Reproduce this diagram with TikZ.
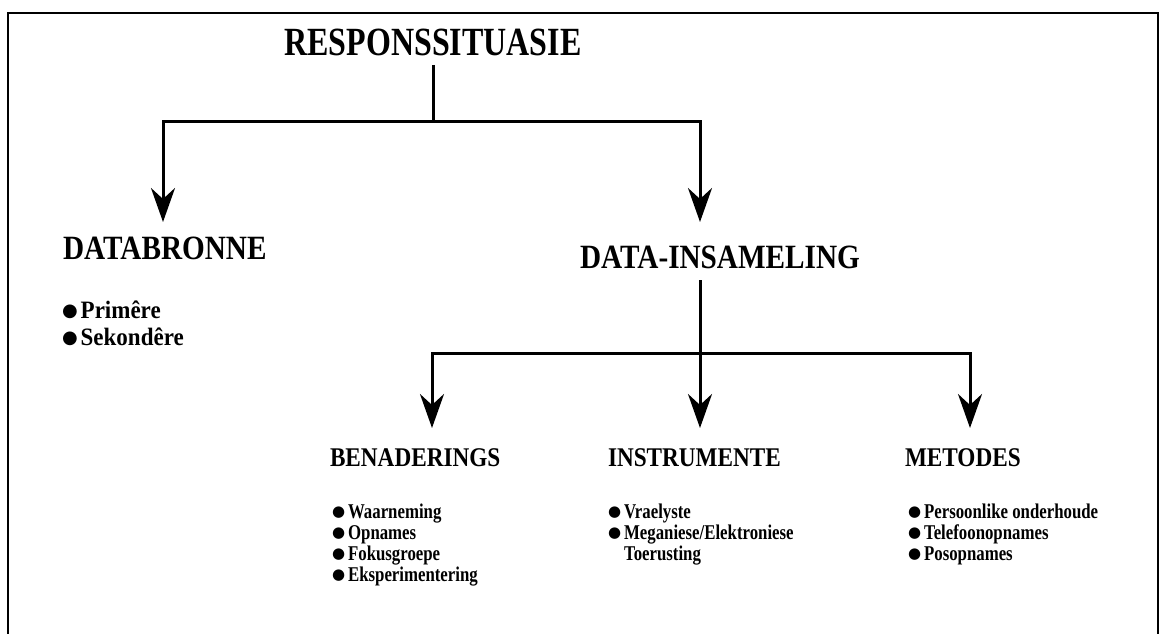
\documentclass[tikz,border=0pt]{standalone}
\usepackage{fontspec}
\setmainfont{Liberation Serif}[FakeStretch=0.8]
\newfontfamily\midfont{Liberation Serif}[FakeStretch=0.86]
\newfontfamily\widefont{Liberation Serif}[FakeStretch=0.92]
\newfontfamily\symfont{DejaVu Sans}
\usetikzlibrary{arrows.meta}
\newcommand\bulA{\raisebox{2pt}{\symfont\fontsize{18}{18}\selectfont ●}}
\newcommand\bulB{\raisebox{2pt}{\symfont\fontsize{15}{15}\selectfont ●}}
\begin{document}
\begin{tikzpicture}[x=1pt,y=-1pt,
  every node/.style={inner sep=0pt, outer sep=0pt},
  title/.style={font=\bfseries\fontsize{40}{40}\selectfont},
  heada/.style={font=\midfont\bfseries\fontsize{34}{34}\selectfont, anchor=west},
  headb/.style={font=\midfont\bfseries\fontsize{27}{27}\selectfont, anchor=west},
  lista/.style={font=\widefont\bfseries\fontsize{25}{27}\selectfont, anchor=base west},
  listb/.style={font=\bfseries\fontsize{21}{21}\selectfont, anchor=base west},
  conn/.style={line width=3pt},
  arr/.style={conn, -{Stealth[length=34pt, width=24pt, inset=11pt]}},
  frame/.style={line width=2.4pt}]
\useasboundingbox (0,0) rectangle (1162,634);
\draw[frame] (8,634) -- (8,13) -- (1158,13) -- (1158,634);

\node[title] (title) at (433,42) {RESPONSSITUASIE};
\node[heada] (db) at (63,248) {DATABRONNE};
\node[heada] (di) at (580,257) {DATA-INSAMELING};
\node[headb] (ben) at (330,458) {BENADERINGS};
\node[headb] (ins) at (608,458) {INSTRUMENTE};
\node[headb] (met) at (905,458) {METODES};

\node[lista] (dbl) at (62,318) {\begin{tabular}[t]{@{}l@{\hspace{3pt}}l@{}}\bulA & Primêre\\ \bulA & Sekondêre\end{tabular}};
\node[listb] (benl) at (332,518) {\begin{tabular}[t]{@{}l@{\hspace{3pt}}l@{}}\bulB & Waarneming\\ \bulB & Opnames\\ \bulB & Fokusgroepe\\ \bulB & Eksperimentering\end{tabular}};
\node[listb] (insl) at (608,518) {\begin{tabular}[t]{@{}l@{\hspace{3pt}}l@{}}\bulB & Vraelyste\\ \bulB & Meganiese/Elektroniese\\ & Toerusting\end{tabular}};
\node[listb] (metl) at (908,518) {\begin{tabular}[t]{@{}l@{\hspace{3pt}}l@{}}\bulB & Persoonlike onderhoude\\ \bulB & Telefoonopnames\\ \bulB & Posopnames\end{tabular}};

\coordinate (j1) at (433,121);
\coordinate (tdb) at (163,222);
\coordinate (tdi) at (700,222);
\coordinate (s2) at (700,280);
\coordinate (j2) at (700,353);
\coordinate (tben) at (432,428);
\coordinate (tins) at (700,428);
\coordinate (tmet) at (970,428);

\draw[conn] (title.south |- 0,65) -- (j1);
\draw[arr] (j1) -| (tdb);
\draw[arr] (j1) -| (tdi);
\draw[arr] (s2) -- (tins);
\draw[arr] (j2) -| (tben);
\draw[arr] (j2) -| (tmet);
\end{tikzpicture}
\end{document}
